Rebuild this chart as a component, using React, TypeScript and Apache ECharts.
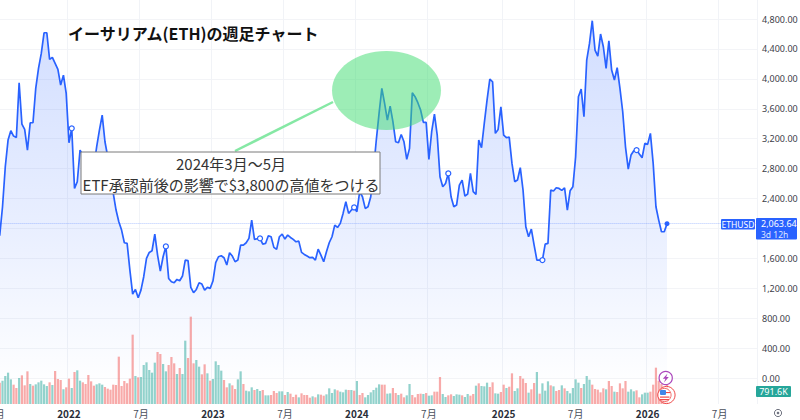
import React, { useEffect, useRef } from "react";
import * as echarts from "echarts";

const TITLE = "イーサリアム(ETH)の週足チャート";
const NOTE_LINE_1 = "2024年3月～5月";
const NOTE_LINE_2 = "ETF承認前後の影響で$3,800の高値をつける";
const SYMBOL = "ETHUSD";
const LAST_PRICE = "2,063.64";
const COUNTDOWN = "3d 12h";
const LAST_VOLUME = "791.6K";
const FIRST_WEEK = Date.UTC(2021, 6, 5);
const WEEK_COUNT = 275;

const price = [
  1845,1912,2290,2825,3182,3306,3235,3217,3948,3395,
  3324,3048,3413,3413,3872,4140,4340,4616,4616,4260,
  4287,4206,4126,3917,4050,3805,3146,3338,2535,2625,
  3048,2981,2914,2870,2959,2825,3092,3315,3516,3159,
  2959,2691,2469,2246,2090,1978,1809,1800,1444,1123,
  1185,1074,1176,1355,1600,1680,1702,1925,1644,1430,
  1622,1760,1332,1288,1274,1319,1301,1364,1577,1569,
  1212,1141,1185,1274,1257,1176,1212,1199,1297,1542,
  1622,1635,1609,1511,1675,1631,1555,1577,1778,1778,
  1809,1867,2112,1854,1863,1867,1791,1800,1903,1889,
  1747,1720,1889,1925,1858,1912,1880,1854,1822,1831,
  1680,1653,1631,1609,1613,1577,1724,1644,1555,1689,
  1809,1889,2045,2014,2068,2201,2357,2201,2246,2281,
  2224,2491,2424,2268,2290,2424,2781,3182,3538,3872,
  3672,3449,3636,3427,3159,3146,3257,3159,2923,3070,
  3814,3761,3681,3583,3418,3418,2923,3293,3529,3248,
  2691,2558,2602,2736,2424,2290,2313,2580,2647,2433,
  2460,2736,2491,2455,3182,3079,3404,3716,3997,3961,
  3271,3324,3627,3248,3213,3222,2870,2625,2647,2812,
  2513,2023,1889,1992,1778,1577,1577,1577,1791,1800,
  2513,2500,2544,2535,2509,2544,2246,2504,2558,2959,
  3761,3863,3493,4251,4474,4777,4385,4304,4599,4429,
  4140,4509,4117,3984,4149,3872,3560,3092,2794,2981,
  3039,3048,2994,2945,3137,3124,3271,2870,2290,2112,
  1956,1956,2063.64,
];

const volume = [
  600,640,700,840,940,740,580,480,780,860,
  560,980,600,550,590,650,700,590,540,650,
  570,990,750,720,440,500,760,480,960,1010,
  700,650,600,870,680,550,590,620,580,510,
  460,430,580,570,1420,540,690,620,760,2080,
  840,800,810,1170,1250,1020,940,1240,1560,1500,
  1200,980,1170,1410,1220,900,1080,900,1900,1380,
  2620,1220,1320,1120,890,1190,920,700,750,1280,
  1170,1000,720,500,620,560,450,740,980,600,
  400,380,500,420,450,390,420,260,260,270,
  390,330,380,380,270,360,310,210,280,200,
  320,270,270,190,230,200,290,280,250,290,
  470,330,440,410,370,350,430,420,420,400,
  690,270,330,200,270,350,420,490,590,580,
  580,310,320,480,330,270,310,200,260,600,
  270,200,300,310,300,330,250,260,370,370,
  810,300,210,260,290,240,290,280,260,210,
  300,250,300,550,620,540,530,640,510,650,
  320,310,360,580,480,520,920,390,470,840,
  760,630,340,440,630,960,310,620,400,680,
  560,530,390,420,560,470,390,320,480,740,
  640,480,600,840,730,580,450,430,350,470,
  440,690,540,370,360,620,470,690,370,440,
  380,410,200,290,340,340,370,580,1090,700,
  600,500,791.6,
];

const volumeDirection =
  "rrttttrrtr" + "rrtrtttttr" + "trrrtrrtrt" + "trrrrrtttr" + "rrrrrrrrrr" +
  "trttttttrr" + "ttrrrtrttr" + "rrttrrtrtt" + "ttrrtrrttr" + "tttrttrttr" +
  "rrttrtrrrt" + "rrrrtrtrrt" + "tttrtttrtr" + "trrttttttr" + "rttrrtrrtt" +
  "rrrrtrttrr" + "rttrrtttrt" + "trrtrtttrr" + "ttrrtrrttr" + "rrtrrtrttt" +
  "rtrrtrtttt" + "trtttrrrrr" + "trrtrrrrtt" + "trrtttrrrr" + "rrr";

const dotWeeks = [27, 61, 95, 129, 163, 197, 231];

const categories = Array.from({ length: WEEK_COUNT }, (_, i) => {
  const d = new Date(FIRST_WEEK + i * 7 * 86400000);
  return d.toISOString().slice(0, 10);
});

const tickText = (value: string) => {
  const [y, m, d] = value.split("-").map(Number);
  if (d > 7) return "";
  if (m === 1) return `{y|${y}}`;
  if (m === 7) return "7月";
  return "";
};
const isTick = (_: number, value: string) => tickText(value) !== "";

const BLUE = "#2962ff";
const GRID_LEFT = -4.4;
const GRID_WIDTH = 761.4;

export default function App() {
  const ref = useRef<HTMLDivElement>(null);
  useEffect(() => {
    const chart = echarts.init(ref.current!, null, { renderer: "svg" });
    const font = "'Noto Sans CJK JP', 'Noto Sans', sans-serif";
    chart.setOption({
      animation: false,
      backgroundColor: "#ffffff",
      textStyle: { fontFamily: font },
      title: {
        text: TITLE,
        left: 63,
        top: 20,
        textStyle: { fontSize: 16, fontWeight: "bold", color: "#111111", fontFamily: font },
      },
      grid: [
        { left: GRID_LEFT, width: GRID_WIDTH, top: 19, height: 389, outerBoundsMode: "none" },
        { left: GRID_LEFT, width: GRID_WIDTH, top: 0, height: 404, outerBoundsMode: "none" },
      ],
      xAxis: [
        {
          type: "category", gridIndex: 0, data: categories, show: false,
        },
        {
          type: "category", gridIndex: 1, data: categories,
          axisLine: { show: false },
          axisTick: { show: false },
          splitLine: { show: true, interval: isTick, lineStyle: { color: "#f1f3f7", width: 1 } },
          axisLabel: {
            interval: isTick,
            formatter: (v: string) => tickText(v),
            color: "#4a4f5c",
            fontSize: 10,
            margin: 4,
            hideOverlap: false,
            fontFamily: font,
            rich: { y: { fontWeight: "bold", fontSize: 10, color: "#2a2e39", fontFamily: font } },
          },
        },
      ],
      yAxis: [
        {
          type: "value", gridIndex: 0, position: "right",
          min: -400, max: 4800, interval: 400,
          axisLine: { show: false },
          axisTick: { show: false },
          splitLine: { show: true, showMinLine: false, lineStyle: { color: "#f3f4f7", width: 1 } },
          axisLabel: {
            margin: 5,
            fontSize: 9,
            color: "#3c4049",
            fontFamily: "'Noto Sans', sans-serif",
            formatter: (v: number) =>
              v < 0 || v === 2000 ? "" : v.toLocaleString("en-US", { minimumFractionDigits: 2, maximumFractionDigits: 2 }),
          },
        },
        {
          type: "value", gridIndex: 1, min: 0, max: 12120, show: false,
        },
      ],
      series: [
        {
          type: "bar",
          name: "Volume",
          xAxisIndex: 1,
          yAxisIndex: 1,
          barWidth: 2.2,
          data: volume.map((v, i) => ({
            value: v,
            itemStyle: {
              color: volumeDirection[i] === "t" ? "rgba(38,166,154,0.5)" : "rgba(242,86,84,0.5)",
            },
          })),
          z: 3,
        },
        {
          type: "line",
          name: "ETHUSD",
          xAxisIndex: 0,
          yAxisIndex: 0,
          data: price,
          showSymbol: false,
          symbol: "none",
          lineStyle: { color: BLUE, width: 1.7 },
          areaStyle: {
            color: new echarts.graphic.LinearGradient(0, 0, 0, 1, [
              { offset: 0, color: "rgba(41,98,255,0.3)" },
              { offset: 0.6, color: "rgba(41,98,255,0.14)" },
              { offset: 1, color: "rgba(41,98,255,0.01)" },
            ]),
          },
          z: 2,
          markLine: {
            silent: true,
            symbol: ["none", "none"],
            label: { show: false },
            lineStyle: { color: "rgba(41,98,255,0.35)", type: [1, 1], width: 1 },
            data: [{ yAxis: 2063.64 }],
          },
          markPoint: {
            silent: true,
            label: { show: false },
            data: [
              ...dotWeeks.map((k) => ({
                coord: [categories[k], price[k]],
                symbol: "circle",
                symbolSize: 5,
                itemStyle: { color: "#ffffff", borderColor: BLUE, borderWidth: 1.2 },
              })),
              {
                coord: [categories[price.length - 1], price[price.length - 1]],
                symbol: "circle",
                symbolSize: 5,
                itemStyle: { color: BLUE },
              },
            ],
          },
        },
      ],
      graphic: [
        { type: "line", z: 100, shape: { x1: 235, y1: 151, x2: 333, y2: 102 }, style: { stroke: "#86e8a5", lineWidth: 2.5 } },
        { type: "ellipse", z: 101, shape: { cx: 386.5, cy: 90.5, rx: 54.5, ry: 39.5 }, style: { fill: "rgba(60,220,110,0.5)" } },
        { type: "rect", z: 102, shape: { x: 81, y: 152, width: 299, height: 42 }, style: { fill: "#ffffff", stroke: "#7a7a7a", lineWidth: 1 } },
        { type: "text", z: 103, x: 231, y: 163.5, style: { text: NOTE_LINE_1, fill: "#333333", font: `15px ${font}`, align: "center", verticalAlign: "middle" } },
        { type: "text", z: 103, x: 231, y: 184, style: { text: NOTE_LINE_2, fill: "#333333", font: `15px ${font}`, align: "center", verticalAlign: "middle" } },
        { type: "rect", z: 110, shape: { x: 721, y: 219, width: 34, height: 10.5, r: 1 }, style: { fill: BLUE } },
        { type: "text", z: 111, x: 738, y: 224.5, style: { text: SYMBOL, fill: "#ffffff", font: "8.5px 'Noto Sans', sans-serif", align: "center", verticalAlign: "middle" } },
        { type: "rect", z: 110, shape: { x: 756, y: 218, width: 41, height: 21.5, r: 1 }, style: { fill: BLUE } },
        { type: "text", z: 111, x: 761, y: 223.5, style: { text: LAST_PRICE, fill: "#ffffff", font: "9px 'Noto Sans', sans-serif", align: "left", verticalAlign: "middle" } },
        { type: "text", z: 111, x: 761, y: 234, style: { text: COUNTDOWN, fill: "#dfe6ff", font: "8.5px 'Noto Sans', sans-serif", align: "left", verticalAlign: "middle" } },
        { type: "rect", z: 110, shape: { x: 756, y: 386, width: 35, height: 11, r: 1 }, style: { fill: "#26a69a" } },
        { type: "text", z: 111, x: 773.5, y: 391.5, style: { text: LAST_VOLUME, fill: "#ffffff", font: "9px 'Noto Sans', sans-serif", align: "center", verticalAlign: "middle" } },
        { type: "circle", z: 112, shape: { cx: 665.7, cy: 378, r: 6.6 }, style: { fill: "#ffffff", stroke: "#ab47bc", lineWidth: 1.2 } },
        { type: "polygon", z: 113, shape: { points: [[667.5, 373.5], [662.8, 378.8], [665.4, 378.8], [664, 382.5], [668.8, 377], [666.2, 377]] }, style: { fill: "#ab47bc" } },
        { type: "circle", z: 112, shape: { cx: 666.5, cy: 395, r: 8.6 }, style: { fill: "rgba(255,255,255,0.7)", stroke: "#ef4b4b", lineWidth: 1 } },
        { type: "circle", z: 113, shape: { cx: 664.5, cy: 395, r: 6.6 }, style: { fill: "#ffffff", stroke: "#ef4b4b", lineWidth: 0.8 } },
        { type: "rect", z: 114, shape: { x: 660, y: 396.5, width: 9.5, height: 1.2 }, style: { fill: "#ef4b4b" } },
        { type: "rect", z: 114, shape: { x: 660, y: 399, width: 9, height: 1.2 }, style: { fill: "#ef4b4b" } },
        { type: "rect", z: 114, shape: { x: 660, y: 390, width: 6, height: 5, r: 1 }, style: { fill: "#3f86e8" } },
        { type: "rect", z: 114, shape: { x: 666, y: 392, width: 4, height: 1.1 }, style: { fill: "#ef4b4b" } },
        { type: "circle", z: 110, shape: { cx: 778, cy: 413, r: 3.6 }, style: { fill: "#ffffff", stroke: "#6f7380", lineWidth: 1 } },
        { type: "circle", z: 111, shape: { cx: 778, cy: 413, r: 1.3 }, style: { fill: "#6f7380" } },
      ],
    });
    return () => chart.dispose();
  }, []);
  return <div ref={ref} style={{ position: "fixed", left: 0, top: 0, width: 800, height: 420 }} />;
}
